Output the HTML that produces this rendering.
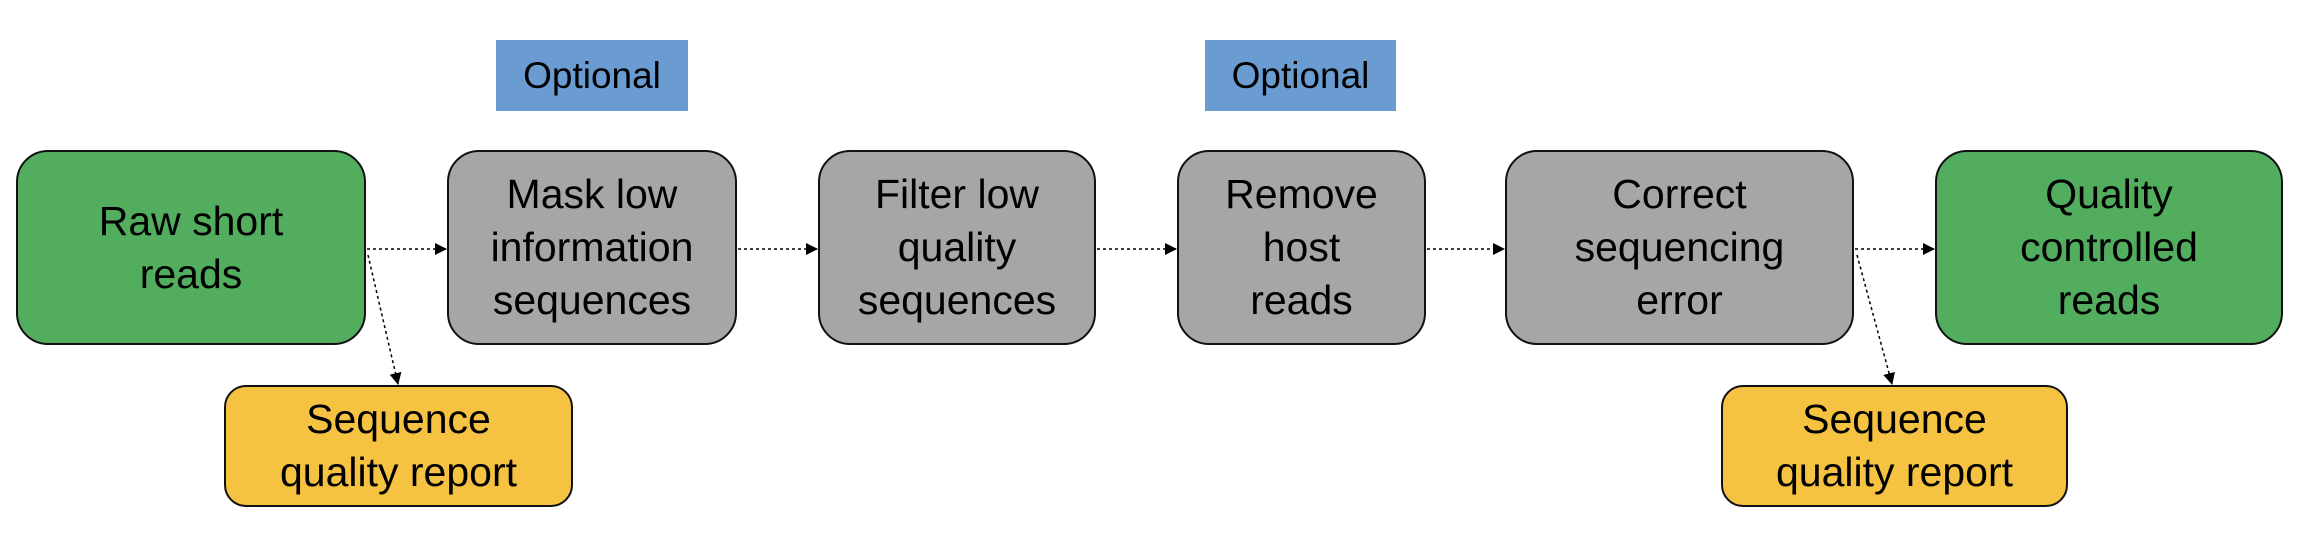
<!DOCTYPE html>
<html><head><meta charset="utf-8"><style>
body{margin:0;width:2306px;height:534px;background:#fff;position:relative;overflow:hidden;font-family:"Liberation Sans",Arial,sans-serif;}
.b{position:absolute;box-sizing:border-box;border:2.5px solid #111;border-radius:32px;display:flex;align-items:center;justify-content:center;text-align:center;font-size:41px;line-height:53px;color:#000;}
.g{background:#52ad5e}.r{background:#a6a6a6}.y{background:#f5c242;border-radius:22px}
.o{position:absolute;background:#6a9bd1;display:flex;align-items:center;justify-content:center;font-size:37px;color:#000;}
svg{position:absolute;left:0;top:0}
</style></head><body>
<div class="o" style="left:496px;top:40px;width:192px;height:71px">Optional</div>
<div class="o" style="left:1205px;top:40px;width:191px;height:71px">Optional</div>
<div class="b g" style="left:16px;top:150px;width:350px;height:195px">Raw short<br>reads</div>
<div class="b r" style="left:447px;top:150px;width:290px;height:195px">Mask low<br>information<br>sequences</div>
<div class="b r" style="left:818px;top:150px;width:278px;height:195px">Filter low<br>quality<br>sequences</div>
<div class="b r" style="left:1177px;top:150px;width:249px;height:195px">Remove<br>host<br>reads</div>
<div class="b r" style="left:1505px;top:150px;width:349px;height:195px">Correct<br>sequencing<br>error</div>
<div class="b g" style="left:1935px;top:150px;width:348px;height:195px">Quality<br>controlled<br>reads</div>
<div class="b y" style="left:224px;top:385px;width:349px;height:122px">Sequence<br>quality report</div>
<div class="b y" style="left:1721px;top:385px;width:347px;height:122px">Sequence<br>quality report</div>
<svg width="2306" height="534">
<defs><marker id="a" markerWidth="12" markerHeight="12" refX="11" refY="6" orient="auto" markerUnits="userSpaceOnUse"><path d="M0,0 L12,6 L0,12 z" fill="#000"/></marker></defs>
<g stroke="#000" stroke-width="1.5" stroke-dasharray="3,3" fill="none" marker-end="url(#a)">
<line x1="367" y1="249" x2="446" y2="249"/>
<line x1="738" y1="249" x2="817" y2="249"/>
<line x1="1097" y1="249" x2="1176" y2="249"/>
<line x1="1427" y1="249" x2="1504" y2="249"/>
<line x1="1855" y1="249" x2="1934" y2="249"/>
<line x1="368" y1="255" x2="398" y2="384"/>
<line x1="1857" y1="255" x2="1892" y2="384"/>
</g></svg>
</body></html>
